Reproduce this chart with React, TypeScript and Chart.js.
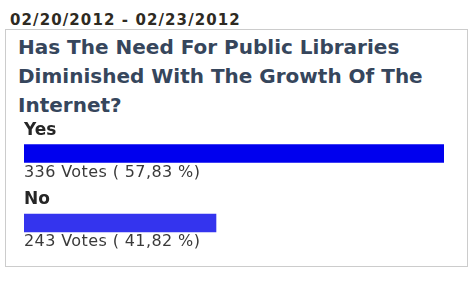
import React, { useEffect, useRef } from "react";
import { Chart, registerables } from "chart.js";

Chart.register(...registerables);

const dateRange = "02/20/2012 - 02/23/2012";
const titleLines = [
  "Has The Need For Public Libraries",
  "Diminished With The Growth Of The",
  "Internet?",
];
const categories = ["Yes", "No"];
const votes = [336, 243];
const percents = [57.83, 41.82];
const barColors = ["#0000ee", "#3434ee"];
const axisMin = 28.34;
const axisMax = 57.83;

const FONT = '"DejaVu Sans", Verdana, sans-serif';

const labelPlugin = {
  id: "pollLabels",
  afterDatasetsDraw(chart: any) {
    const ctx = chart.ctx as CanvasRenderingContext2D;
    const meta = chart.getDatasetMeta(0);
    meta.data.forEach((bar: any, i: number) => {
      const { y, base, height } = bar.getProps(["y", "base", "height"], true);
      const top = y - height / 2;
      const bottom = y + height / 2;
      ctx.save();
      ctx.textAlign = "left";
      ctx.textBaseline = "alphabetic";
      ctx.font = `bold 17px ${FONT}`;
      ctx.fillStyle = "#262626";
      ctx.fillText(categories[i], base, top - 10);
      ctx.font = `16px ${FONT}`;
      (ctx as any).letterSpacing = "0.4px";
      ctx.fillStyle = "#3a3a3a";
      const pct = percents[i].toFixed(2).replace(".", ",");
      ctx.fillText(`${votes[i]} Votes ( ${pct} %)`, base, bottom + 14.5);
      ctx.restore();
    });
  },
};

export default function App() {
  const canvasRef = useRef<HTMLCanvasElement | null>(null);

  useEffect(() => {
    if (!canvasRef.current) return;
    const chart = new Chart(canvasRef.current, {
      type: "bar",
      data: {
        labels: categories,
        datasets: [
          {
            data: percents,
            backgroundColor: barColors,
            borderWidth: 0,
            barThickness: 17.6,
            base: axisMin,
          } as any,
        ],
      },
      options: {
        indexAxis: "y",
        animation: false,
        responsive: false,
        devicePixelRatio: 1,
        layout: { padding: { left: 24, right: 29, top: 118.75, bottom: 24.25 } },
        scales: {
          x: { type: "linear", min: axisMin, max: axisMax, display: false },
          y: { type: "category", display: false },
        },
        plugins: {
          legend: { display: false },
          tooltip: { enabled: false },
          title: { display: false },
        },
      },
      plugins: [labelPlugin],
    });
    return () => chart.destroy();
  }, []);

  return (
    <div
      style={{
        position: "fixed",
        left: 0,
        top: 0,
        width: 473,
        height: 282,
        background: "#ffffff",
        overflow: "hidden",
      }}
    >
      <div
        style={{
          position: "absolute",
          left: 10,
          top: 13.3,
          fontFamily: FONT,
          fontWeight: "bold",
          fontSize: 15,
          lineHeight: "15px",
          letterSpacing: "1.1px",
          color: "#2e2a22",
          whiteSpace: "nowrap",
        }}
      >
        {dateRange}
      </div>
      <div
        style={{
          position: "absolute",
          left: 5,
          top: 29,
          width: 461,
          height: 236,
          border: "1px solid #cccccc",
        }}
      />
      <div
        style={{
          position: "absolute",
          left: 18,
          top: 32.6,
          fontFamily: FONT,
          fontWeight: "bold",
          fontSize: 20,
          lineHeight: "29px",
          color: "#36465c",
          whiteSpace: "nowrap",
        }}
      >
        {titleLines.map((l, i) => (
          <div key={i}>{l}</div>
        ))}
      </div>
      <canvas
        ref={canvasRef}
        width={473}
        height={282}
        style={{ position: "absolute", left: 0, top: 0, width: 473, height: 282 }}
      />
    </div>
  );
}
